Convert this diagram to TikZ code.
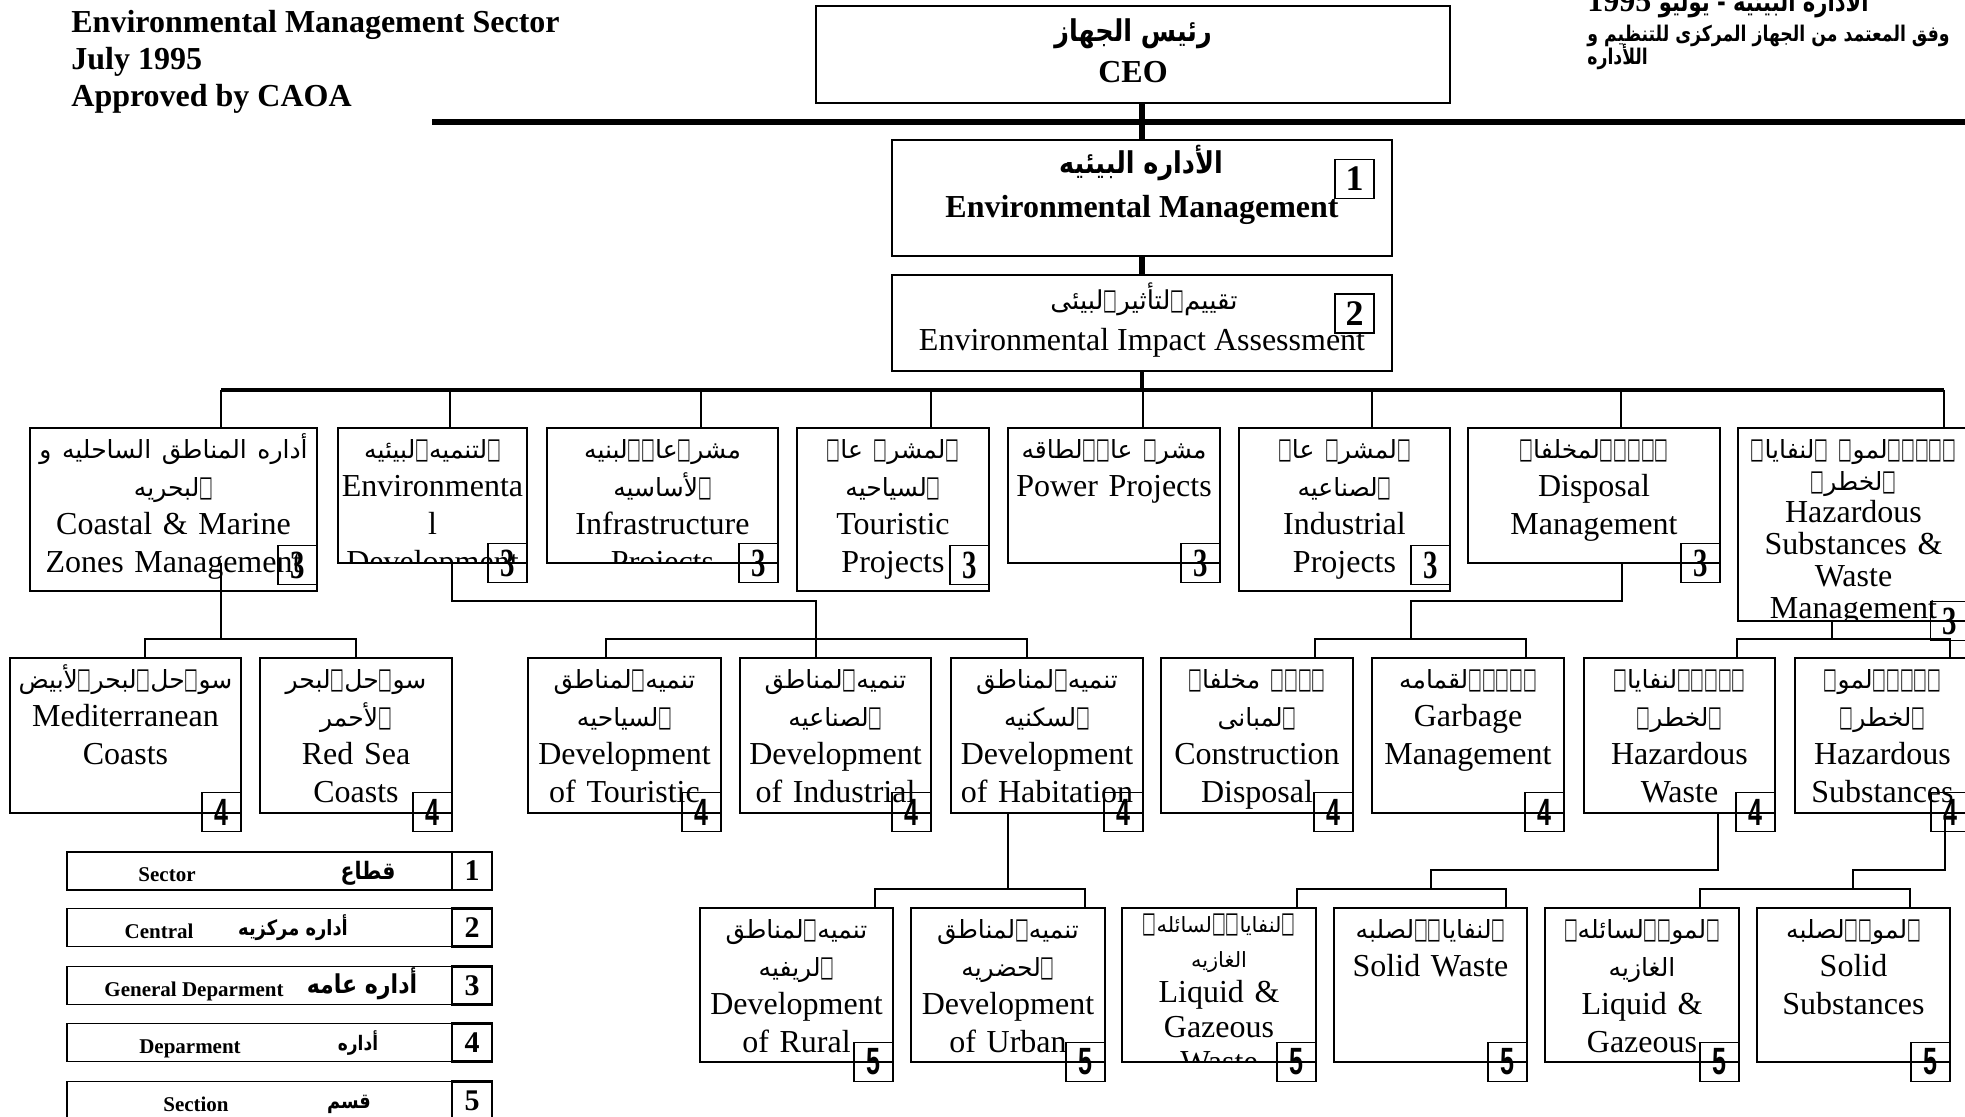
\documentclass[tikz,border=0pt]{standalone}
\usepackage{fontspec}
\setmainfont{Liberation Serif}
\newfontfamily\arabicfont[Script=Arabic]{DejaVu Sans}
\newfontfamily\arabicc[Script=Arabic,FakeStretch=0.85]{DejaVu Sans}
\newfontfamily\arabiccc[Script=Arabic,FakeStretch=0.8]{DejaVu Sans}
\newfontfamily\tofufont[FakeStretch=0.5]{DejaVu Sans}
\newfontfamily\condserif[FakeStretch=0.72]{Liberation Serif}
\newfontfamily\condsans[FakeStretch=0.66]{Liberation Sans}
\TeXXeTstate=1
\newcommand\AR[2][12.5]{\leavevmode\hbox{\arabicfont\fontsize{#1}{#1}\selectfont\beginR#2\endR}}
\newcommand\ARc[2][12]{\leavevmode\hbox{\arabicc\fontsize{#1}{#1}\selectfont\beginR#2\endR}}
\newcommand\ARn[2][11]{\leavevmode\hbox{\arabiccc\fontsize{#1}{#1}\selectfont\beginR#2\endR}}
\newcommand\TF{\hbox{\tofufont\fontsize{14.5}{14.5}\selectfont □}}
\newcommand\fs{\rule{0pt}{15pt}}
\newcommand\bthree{\condserif\bfseries\fontsize{20}{20}\selectfont}
\newcommand\bfour{\condsans\bfseries\fontsize{19}{19}\selectfont}
\newcommand\bone{\bfseries\fontsize{18}{18}\selectfont}
\tikzset{
  boxst/.style={draw, line width=1.1pt, inner sep=0pt, outer sep=0pt},
  topbox/.style={draw, line width=1.3pt, inner sep=0pt, outer sep=0pt},
  badgest/.style={draw, line width=0.8pt, minimum width=19.5pt, minimum height=19.5pt, inner sep=0pt},
  txt/.style={inner sep=0pt, align=center, font={\fontsize{16}{19}\selectfont\lineskiplimit=-100pt}},
  conn/.style={line width=1pt},
  heavy/.style={line width=2.6pt},
  lgbox/.style={draw, line width=0.7pt, inner sep=0pt, minimum width=192.5pt, minimum height=19pt},
  lgnum/.style={draw, line width=1.2pt, inner sep=0pt, minimum width=20pt, minimum height=19pt, font={\bfseries\fontsize{15}{15}\selectfont}},
  lgen/.style={inner sep=0pt, anchor=base, font={\bfseries\fontsize{10.5}{12}\selectfont}},
  lgar/.style={inner sep=0pt, anchor=base},
  head/.style={inner sep=0pt, anchor=base west, font={\bfseries\fontsize{16}{19}\selectfont}},
}
\newcommand\orgbox[7]{%
  \pgfmathsetmacro\obw{(#4-#2)*0.5}%
  \pgfmathsetmacro\obh{(#5-#3)*0.5}%
  \node[boxst, minimum width=\obw pt, minimum height=\obh pt] (#1) at ({(#2+#4)/2},{(#3+#5)/2}) {};
  \begin{scope}
    \clip (#1.south west) rectangle (#1.north east);
    \node[txt, #6, text width=\obw pt, anchor=north] (#1-t) at (#1.north) {#7};
  \end{scope}}
\newcommand\badge[5]{\node[badgest, font=#4] (#1) at (#2,#3) {#5};}

\begin{document}
\begin{tikzpicture}[x=0.5pt,y=-0.5pt]
\fill[white] (0,0) rectangle (1965,1117);
\useasboundingbox (0,0) rectangle (1965,1117);

% ---------- headings ----------
\node[head] (h2) at (71,33) {Environmental Management Sector};
\node[head] (h3) at (71,70) {July 1995};
\node[head] (h4) at (71,107) {Approved by CAOA};
\node[inner sep=0pt, anchor=base west] (tr1) at (1587,12) {\ARn[13.2]{\bfseries الأدارة البيئية - يوليو {\rmfamily\bfseries\fontsize{16}{16}\selectfont 1995}}};
\node[inner sep=0pt, anchor=base west] (tr2) at (1587,42) {\ARn[10.8]{\bfseries وفق المعتمد من الجهاز المركزى للتنظيم و}};
\node[inner sep=0pt, anchor=base west] (tr3) at (1587,65) {\ARn[10.8]{\bfseries اللأداره}};

% ---------- top boxes ----------
\node[topbox, minimum width=317pt, minimum height=48.5pt] (ceo) at (1133,54.5) {};
\node[inner sep=0pt, anchor=base] (ceo-ar) at (1133,42) {\ARc[15]{\bfseries رئيس الجهاز}};
\node[inner sep=0pt, anchor=base, font={\bfseries\fontsize{16}{19}\selectfont}] (ceo-en) at (1133,83) {CEO};

\node[topbox, minimum width=250pt, minimum height=58pt] (em) at (1142,198) {};
\node[inner sep=0pt, anchor=base] (em-ar) at (1141,174) {\ARc[15]{\bfseries الأداره البيئيه}};
\node[inner sep=0pt, anchor=base, font={\bfseries\fontsize{16}{19}\selectfont}] (em-en) at (1142,218) {Environmental Management};
\badge{em-b}{1354.5}{179}{\bone}{1}

\node[topbox, minimum width=250pt, minimum height=48pt] (eia) at (1142,323) {};
\node[inner sep=0pt, anchor=base] (eia-ar) at (1144,310) {\AR[13]{تقييم\TF لتأثير\TF لبيئى}};
\node[inner sep=0pt, anchor=base, font={\fontsize{16}{19}\selectfont}] (eia-en) at (1142,351) {Environmental Impact Assessment};
\badge{eia-b}{1354.5}{313.5}{\bone}{2}

% ---------- row 3 ----------
\orgbox{coast}{30}{428}{317}{591}{}{\fs\AR{أداره المناطق الساحليه و}\\\AR{\TF لبحريه}\\Coastal \& Marine\\Zones Management}
\orgbox{envdev}{338}{428}{527}{563}{}{\fs\AR{\TF لتنميه\TF لبيئيه}\\Environmenta\\l\\Development}
\orgbox{infra}{547}{428}{778}{563}{}{\fs\AR{مشر\TF عا\TF\TF لبنيه}\\\AR{\TF لأساسيه}\\Infrastructure\\Projects}
\orgbox{tour}{797}{428}{989}{591}{}{\fs\AR{\TF لمشر\TF{} عا\TF}\\\AR{\TF لسياحيه}\\Touristic\\Projects}
\orgbox{power}{1008}{428}{1220}{563}{}{\fs\AR{مشر\TF{} عا\TF\TF لطاقه}\\Power Projects}
\orgbox{indus}{1239}{428}{1450}{591}{}{\fs\AR{\TF لمشر\TF{} عا\TF}\\\AR{\TF لصناعيه}\\Industrial\\Projects}
\orgbox{disp}{1468}{428}{1720}{563}{}{\fs\AR{\TF\TF\TF\TF\TF لمخلفا\TF}\\Disposal\\Management}
\orgbox{haz}{1738}{428}{1969}{621}{font={\fontsize{16}{16}\selectfont\lineskiplimit=-100pt}}{\fs\AR{\TF\TF\TF\TF\TF لمو\TF{} \TF لنفايا\TF}\\\AR{\TF لخطر\TF}\\Hazardous\\Substances \&\\Waste\\Management}
\badge{coast-b}{297.5}{565}{\bthree}{3}
\badge{envdev-b}{507.5}{563}{\bthree}{3}
\badge{infra-b}{758.5}{563}{\bthree}{3}
\badge{tour-b}{969.5}{565}{\bthree}{3}
\badge{power-b}{1200.5}{563}{\bthree}{3}
\badge{indus-b}{1430.5}{565}{\bthree}{3}
\badge{disp-b}{1700.5}{563}{\bthree}{3}
\badge{haz-b}{1950}{621}{\bthree}{3}

% ---------- row 4 ----------
\orgbox{med}{10}{658}{241}{813}{}{\fs\AR{سو\TF حل\TF لبحر\TF لأبيض}\\Mediterranean\\Coasts}
\orgbox{red}{260}{658}{452}{813}{}{\fs\AR{سو\TF حل\TF لبحر}\\\AR{\TF لأحمر}\\Red Sea\\Coasts}
\orgbox{devt}{528}{658}{721}{813}{}{\fs\AR{تنميه\TF لمناطق}\\\AR{\TF لسياحيه}\\Development\\of Touristic}
\orgbox{devi}{740}{658}{931}{813}{}{\fs\AR{تنميه\TF لمناطق}\\\AR{\TF لصناعيه}\\Development\\of Industrial}
\orgbox{devh}{951}{658}{1143}{813}{}{\fs\AR{تنميه\TF لمناطق}\\\AR{\TF لسكنيه}\\Development\\of Habitation}
\orgbox{cons}{1161}{658}{1353}{813}{}{\fs\AR{\TF\TF\TF\TF{} مخلفا\TF}\\\AR{\TF لمبانى}\\Construction\\Disposal}
\orgbox{garb}{1372}{658}{1564}{813}{}{\fs\AR{\TF\TF\TF\TF\TF لقمامه}\\Garbage\\Management}
\orgbox{hw}{1584}{658}{1775}{813}{}{\fs\AR{\TF\TF\TF\TF\TF لنفايا\TF}\\\AR{\TF لخطر\TF}\\Hazardous\\Waste}
\orgbox{hs}{1795}{658}{1970}{813}{}{\fs\AR{\TF\TF\TF\TF\TF لمو\TF}\\\AR{\TF لخطر\TF}\\Hazardous\\Substances}
\badge{med-b}{221.5}{812}{\bfour}{4}
\badge{red-b}{432.5}{812}{\bfour}{4}
\badge{devt-b}{701.5}{812}{\bfour}{4}
\badge{devi-b}{911.5}{812}{\bfour}{4}
\badge{devh-b}{1123.5}{812}{\bfour}{4}
\badge{cons-b}{1333.5}{812}{\bfour}{4}
\badge{garb-b}{1544.5}{812}{\bfour}{4}
\badge{hw-b}{1755.5}{812}{\bfour}{4}
\badge{hs-b}{1950.5}{812}{\bfour}{4}

% ---------- row 5 ----------
\orgbox{rural}{700}{908}{893}{1062}{}{\fs\AR{تنميه\TF لمناطق}\\\AR{\TF لريفيه}\\Development\\of Rural}
\orgbox{urban}{911}{908}{1105}{1062}{}{\fs\AR{تنميه\TF لمناطق}\\\AR{\TF لحضريه}\\Development\\of Urban}
\orgbox{lgw}{1122}{908}{1316}{1062}{font={\fontsize{16}{17.5}\selectfont\lineskiplimit=-100pt}}{\rule{0pt}{12pt}\AR[10.5]{\TF لنفايا\TF\TF لسائله\TF}\\\AR[10.5]{الغازيه}\\Liquid \&\\Gazeous\\Waste}
\orgbox{sw}{1334}{908}{1527}{1062}{}{\fs\AR{\TF لنفايا\TF\TF لصلبه}\\Solid Waste}
\orgbox{lgs}{1545}{908}{1739}{1062}{}{\fs\AR{\TF لمو\TF\TF لسائله\TF}\\\AR{الغازيه}\\Liquid \&\\Gazeous}
\orgbox{ss}{1757}{908}{1950}{1062}{}{\fs\AR{\TF لمو\TF\TF لصلبه}\\Solid\\Substances}
\badge{rural-b}{873.5}{1062}{\bfour}{5}
\badge{urban-b}{1085.5}{1062}{\bfour}{5}
\badge{lgw-b}{1296.5}{1062}{\bfour}{5}
\badge{sw-b}{1507.5}{1062}{\bfour}{5}
\badge{lgs-b}{1719.5}{1062}{\bfour}{5}
\badge{ss-b}{1930.5}{1062}{\bfour}{5}

% ---------- connectors: top ----------
\coordinate (hl) at (432,122);
\coordinate (hr) at (1965,122);
\draw[heavy] (hl) -- (hr);
\draw[heavy] (em.north |- ceo.south) -- (em.north);
\draw[heavy] (em.south) -- (eia.north);
\coordinate (busL) at (221,390);
\coordinate (busR) at (1944,390);
\draw[line width=2.4pt] (eia.south) -- (eia.south |- busL);
\draw[line width=1.6pt] (busL) -- (busR);
\foreach \n/\x in {coast/221, envdev/450, infra/701, tour/931, power/1143, indus/1372, disp/1621, haz/1944}{
  \coordinate (d-\n) at (\x,390);
  \draw[conn] (d-\n) -- (d-\n |- \n.north);
}

% ---------- connectors: row 3 to row 4 ----------
\coordinate (cs) at (221,563);
\coordinate (cj) at (221,639);
\coordinate (cA) at (145,639);
\coordinate (cB) at (356,639);
\draw[conn] (cs) -- (cj);
\draw[conn] (cA |- med.north) -- (cA) -- (cB) -- (cB |- red.north);

\coordinate (e1) at (452,601);
\coordinate (e2) at (816,601);
\coordinate (eA) at (606,639);
\coordinate (eC) at (1027,639);
\draw[conn] (envdev.south -| e1) -- (e1) -- (e2) -- (e2 |- devi.north);
\draw[conn] (eA |- devt.north) -- (eA) -- (eC) -- (eC |- devh.north);

\coordinate (p1) at (1622,601);
\coordinate (p2) at (1411,601);
\coordinate (pA) at (1315,639);
\coordinate (pB) at (1526,639);
\draw[conn] (disp.south -| p1) -- (p1) -- (p2) -- (p2 |- pA);
\draw[conn] (pA |- cons.north) -- (pA) -- (pB) -- (pB |- garb.north);

\coordinate (q1) at (1832,639);
\coordinate (qA) at (1737,639);
\coordinate (qB) at (1950,639);
\draw[conn] (haz.south -| q1) -- (q1);
\draw[conn] (qA |- hw.north) -- (qA) -- (qB) -- (qB |- hs.north);

% ---------- connectors: row 4 to row 5 ----------
\coordinate (v1) at (1008,889);
\coordinate (vA) at (875,889);
\coordinate (vB) at (1085,889);
\draw[conn] (devh.south -| v1) -- (v1);
\draw[conn] (vA |- rural.north) -- (vA) -- (vB) -- (vB |- urban.north);

\coordinate (w1) at (1718,870);
\coordinate (w2) at (1431,870);
\coordinate (w3) at (1431,889);
\coordinate (wA) at (1297,889);
\coordinate (wB) at (1506,889);
\draw[conn] (hw.south -| w1) -- (w1) -- (w2) -- (w3);
\draw[conn] (wA |- lgw.north) -- (wA) -- (wB) -- (wB |- sw.north);

\coordinate (s1) at (1945,870);
\coordinate (s2) at (1853,870);
\coordinate (s3) at (1853,889);
\coordinate (sA) at (1700,889);
\coordinate (sB) at (1910,889);
\draw[conn] (hs.south -| s1) -- (s1) -- (s2) -- (s3);
\draw[conn] (sA |- lgs.north) -- (sA) -- (sB) -- (sB |- ss.north);

% ---------- legend ----------
\node[lgbox] (lg1) at (259.5,871) {};
\node[lgnum] (ln1) at (472,871) {1};
\node[lgen] (le1) at (167,881) {Sector};
\node[lgar] (la1) at (368,879) {\ARc[12]{\bfseries قطاع}};

\node[lgbox] (lg2) at (259.5,927.5) {};
\node[lgnum] (ln2) at (472,927.5) {2};
\node[lgen] (le2) at (159,938) {Central};
\node[lgar] (la2) at (293,935) {\ARc[10.5]{\bfseries أداره مركزيه}};

\node[lgbox] (lg3) at (259.5,985.5) {};
\node[lgnum] (ln3) at (472,985.5) {3};
\node[lgen] (le3) at (194,996) {General Deparment};
\node[lgar] (la3) at (362,993) {\ARc[13]{\bfseries أداره عامه}};

\node[lgbox] (lg4) at (259.5,1042.5) {};
\node[lgnum] (ln4) at (472,1042.5) {4};
\node[lgen] (le4) at (190,1053) {Deparment};
\node[lgar] (la4) at (358,1050) {\ARc[10]{\bfseries أداره}};

\node[lgbox] (lg5) at (259.5,1100.5) {};
\node[lgnum] (ln5) at (472,1100.5) {5};
\node[lgen] (le5) at (196,1111) {Section};
\node[lgar] (la5) at (349,1108) {\ARc[10.5]{\bfseries قسم}};
\end{tikzpicture}
\end{document}
